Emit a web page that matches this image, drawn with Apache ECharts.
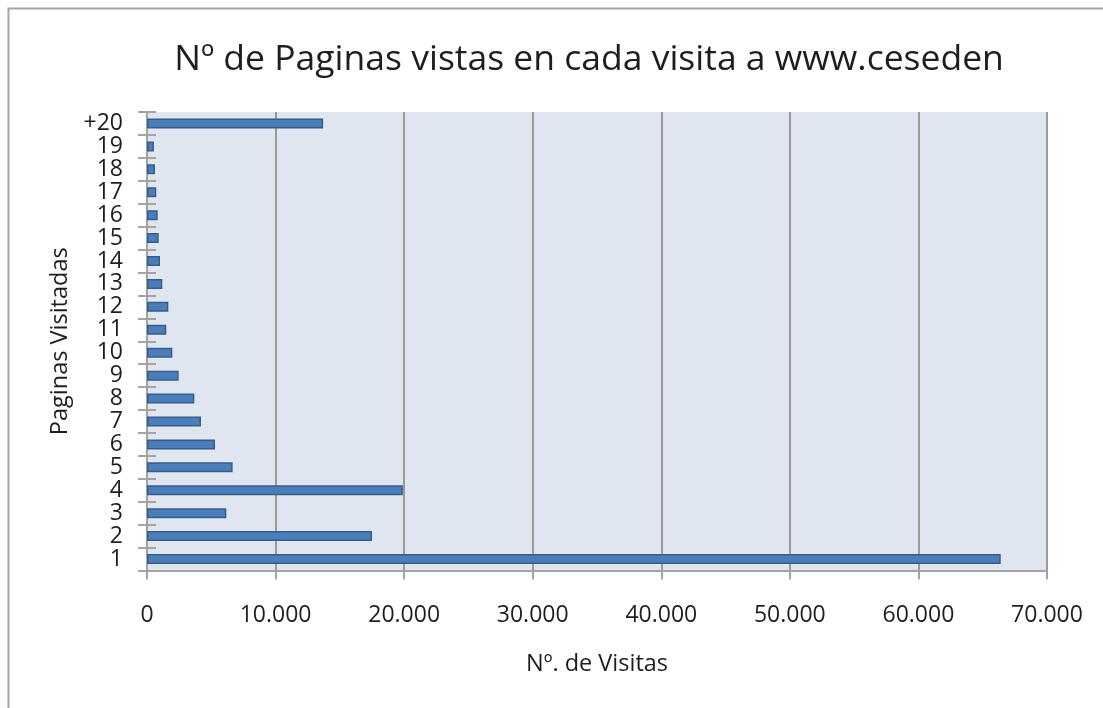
<!DOCTYPE html>
<html>
<head>
<meta charset="utf-8">
<script src="https://cdn.jsdelivr.net/npm/echarts@6/dist/echarts.min.js"></script>
<style>
  html, body { margin: 0; padding: 0; background: #fff; }
  #chart { width: 1103px; height: 708px; }
</style>
</head>
<body>
<div id="chart"></div>
<script>
// Pages viewed per visit (category) and number of visits
const pageCategories = ['1', '2', '3', '4', '5', '6', '7', '8', '9', '10',
  '11', '12', '13', '14', '15', '16', '17', '18', '19', '+20'];
const visitCounts = [66400, 17500, 6170, 19900, 6660, 5290, 4200, 3680, 2460, 1970,
  1500, 1660, 1190, 1010, 910, 830, 720, 620, 540, 13700];
const xTickValues = [0, 10000, 20000, 30000, 40000, 50000, 60000, 70000];

const FONT = '"Open Sans", "Noto Sans", sans-serif';
const TEXT = '#1e1e1e';
const AXIS_GRAY = '#a3a3a3';

function fmtThousands(v) {
  return String(v).replace(/\B(?=(\d{3})+(?!\d))/g, '.');
}

const chart = echarts.init(document.getElementById('chart'), null, { renderer: 'canvas' });

chart.setOption({
  animation: false,
  backgroundColor: '#ffffff',
  graphic: [{
    type: 'rect',
    shape: { x: 8.5, y: 8.5, width: 1200, height: 800 },
    style: { fill: null, stroke: '#a6a6a6', lineWidth: 2 },
    silent: true
  }],
  title: {
    text: 'Nº de Paginas vistas en cada visita a www.ceseden',
    left: 584,
    textAlign: 'center',
    top: 37,
    textStyle: { fontFamily: FONT, fontSize: 35.5, fontWeight: 'normal', color: TEXT }
  },
  grid: {
    left: 147, right: 56, top: 112, bottom: 137.5,
    show: true, backgroundColor: '#dfe6f0', borderWidth: 0,
    containLabel: false
  },
  xAxis: {
    type: 'value',
    min: 0, max: 70000, interval: 10000,
    name: 'Nº. de Visitas',
    nameLocation: 'middle',
    nameGap: 82,
    nameTextStyle: { fontFamily: FONT, fontSize: 23.5, color: TEXT },
    axisLine: { show: true, lineStyle: { color: AXIS_GRAY, width: 2 } },
    axisTick: { show: true, length: 9, lineStyle: { color: AXIS_GRAY, width: 2 } },
    axisLabel: {
      margin: 33, fontFamily: FONT, fontSize: 23, color: TEXT,
      customValues: xTickValues,
      formatter: fmtThousands
    },
    splitLine: { show: true, lineStyle: { color: '#9a9a9a', width: 2 } }
  },
  yAxis: [{
    type: 'category',
    data: pageCategories,
    position: 'left',
    name: 'Paginas Visitadas',
    nameLocation: 'middle',
    nameGap: 74,
    nameRotate: 90,
    nameTextStyle: { fontFamily: FONT, fontSize: 23.5, color: TEXT },
    axisLine: { show: true, lineStyle: { color: AXIS_GRAY, width: 2 } },
    axisTick: { show: true, inside: false, length: 9, lineStyle: { color: AXIS_GRAY, width: 2 } },
    axisLabel: { interval: 0, margin: 24, fontFamily: FONT, fontSize: 23, lineHeight: 23, color: TEXT },
    splitLine: { show: false }
  }, {
    // second copy of the category axis, pulled onto the left edge, for the inner half of the cross ticks
    type: 'category',
    data: pageCategories,
    position: 'right',
    offset: -900,
    axisLine: { show: false },
    axisTick: { show: true, inside: false, length: 9, lineStyle: { color: AXIS_GRAY, width: 2 } },
    axisLabel: { show: false },
    splitLine: { show: false }
  }],
  series: [{
    type: 'bar',
    yAxisIndex: 0,
    data: visitCounts,
    barWidth: 10,
    itemStyle: { color: '#4a7ebb', borderColor: '#385d8a', borderWidth: 1.5 }
  }]
});
</script>
</body>
</html>
